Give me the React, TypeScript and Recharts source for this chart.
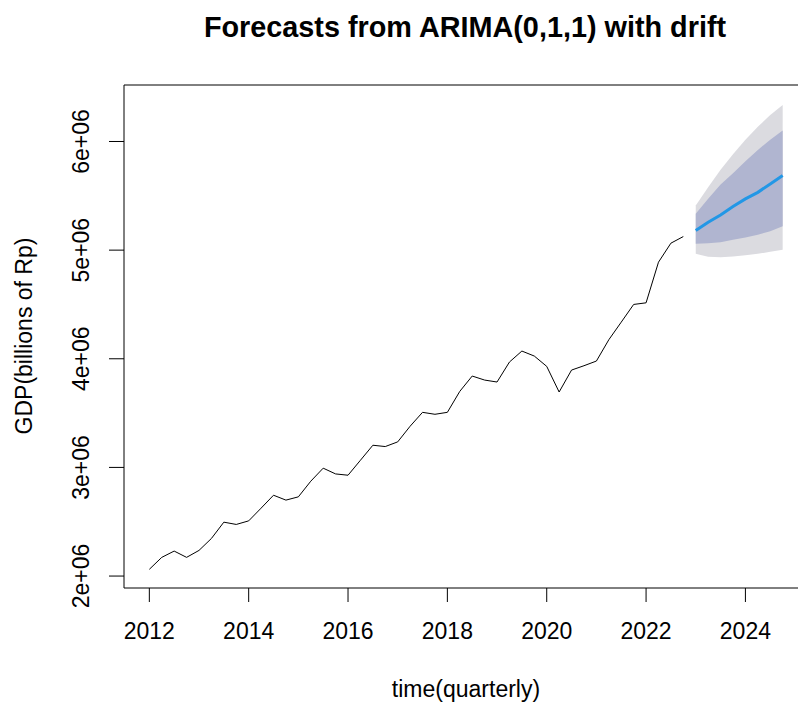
import { ComposedChart, Line, Area, XAxis, YAxis, ReferenceArea } from 'recharts'

const FONT = '"Liberation Sans", Arial, Helvetica, sans-serif'
const W = 830
const H = 703

// quarterly GDP, 2012Q1 .. 2022Q4
const START_YEAR = 2012
const gdp = [
  2062000, 2172000, 2230000, 2172000, 2236000, 2346000, 2496000, 2475000,
  2508000, 2625000, 2744000, 2699000, 2729000, 2873000, 2993000, 2940000,
  2928000, 3066000, 3204000, 3192000, 3235000, 3379000, 3507000, 3489000,
  3507000, 3700000, 3841000, 3804000, 3786000, 3970000, 4071000, 4025000,
  3930000, 3694000, 3896000, 3936000, 3979000, 4175000, 4337000, 4500000,
  4515000, 4889000, 5064000, 5125000,
]

// forecast 2023Q1 .. 2024Q4
const fcMean = [5180000, 5256000, 5324000, 5401000, 5472000, 5532000, 5609000, 5686000]
const lo80 = [5058000, 5063000, 5073000, 5095000, 5116000, 5141000, 5174000, 5220000]
const hi80 = [5334000, 5474000, 5603000, 5707000, 5817000, 5922000, 6017000, 6102000]
const lo95 = [4966000, 4938000, 4935000, 4941000, 4953000, 4966000, 4984000, 5003000]
const hi95 = [5410000, 5578000, 5741000, 5882000, 6017000, 6136000, 6244000, 6336000]

const xTicks = [2012, 2014, 2016, 2018, 2020, 2022, 2024]
const yTicks = [2000000, 3000000, 4000000, 5000000, 6000000]
const yTickLabels = ['2e+06', '3e+06', '4e+06', '5e+06', '6e+06']

const X_DOMAIN = [2011.49, 2025.26]
const Y_DOMAIN = [1890000, 6520000]

const rows = [
  ...gdp.map((v, i) => ({ t: START_YEAR + i / 4, gdp: v })),
  ...fcMean.map((m, i) => ({
    t: START_YEAR + (gdp.length + i) / 4,
    mean: m,
    band80: [lo80[i], hi80[i]],
    band95: [lo95[i], hi95[i]],
  })),
]

function YTick(props: any) {
  const { x, y, payload } = props
  const idx = yTicks.indexOf(payload.value)
  return (
    <text
      x={x}
      y={y}
      transform={`rotate(-90 ${x} ${y})`}
      textAnchor="middle"
      fontSize={23}
      fontFamily={FONT}
      fill="#000"
    >
      {idx >= 0 ? yTickLabels[idx] : payload.value}
    </text>
  )
}

export default function App() {
  return (
    <div style={{ position: 'absolute', left: 0, top: 0, width: 798, height: 703, overflow: 'hidden', background: '#fff' }}>
      <div style={{ position: 'relative', width: W, height: H }}>
        <ComposedChart width={W} height={H} data={rows} margin={{ top: 85, right: 22, left: 0, bottom: 0 }}>
          <XAxis
            dataKey="t"
            type="number"
            domain={X_DOMAIN}
            allowDataOverflow
            ticks={xTicks}
            interval={0}
            height={115}
            tickSize={14}
            tickMargin={21}
            axisLine={false}
            tickLine={{ stroke: '#000' }}
            tick={{ fontSize: 23, fill: '#000', fontFamily: FONT }}
          />
          <YAxis
            type="number"
            domain={Y_DOMAIN}
            allowDataOverflow
            ticks={yTicks}
            interval={0}
            width={124}
            tickSize={15}
            tickMargin={20}
            axisLine={false}
            tickLine={{ stroke: '#000' }}
            tick={<YTick />}
          />
          <Area dataKey="band95" type="linear" fill="#dbdbe0" fillOpacity={1} stroke="none" isAnimationActive={false} />
          <Area dataKey="band80" type="linear" fill="#b0b5d0" fillOpacity={1} stroke="none" isAnimationActive={false} />
          <Line dataKey="gdp" type="linear" stroke="#000" strokeWidth={1} dot={false} isAnimationActive={false} />
          <Line dataKey="mean" type="linear" stroke="#2297e6" strokeWidth={3} dot={false} isAnimationActive={false} />
          <ReferenceArea
            x1={X_DOMAIN[0]}
            x2={X_DOMAIN[1]}
            y1={Y_DOMAIN[0]}
            y2={Y_DOMAIN[1]}
            fill="none"
            fillOpacity={0}
            stroke="#000"
            strokeWidth={1}
            ifOverflow="visible"
          />
        </ComposedChart>
        <svg width={W} height={H} style={{ position: 'absolute', left: 0, top: 0, pointerEvents: 'none' }}>
          <text x={465} y={37} textAnchor="middle" fontSize={28.8} fontWeight="bold" fontFamily={FONT} fill="#000">
            Forecasts from ARIMA(0,1,1) with drift
          </text>
          <text x={466} y={697} textAnchor="middle" fontSize={23} fontFamily={FONT} fill="#000">
            time(quarterly)
          </text>
          <text x={32} y={336} transform="rotate(-90 32 336)" textAnchor="middle" fontSize={23} fontFamily={FONT} fill="#000">
            GDP(billions of Rp)
          </text>
        </svg>
      </div>
    </div>
  )
}
